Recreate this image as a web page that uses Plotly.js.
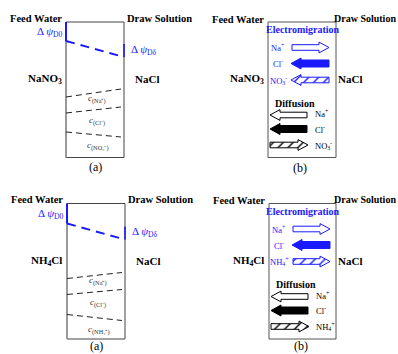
<!DOCTYPE html>
<html><head><meta charset="utf-8">
<script src="https://cdn.plot.ly/plotly-3.0.1.min.js"></script>
<style>html,body{margin:0;padding:0;background:#fff}#plot{width:398px;height:354px}</style>
</head><body><div id="plot"></div>
<script>
// ---- data ----
const feedSalts = ['NaNO<sub>3</sub>', 'NH<sub>4</sub>Cl'];
const drawSalts = ['NaCl', 'NaCl'];
const ionLabels = [
  ['Na<sup>+</sup>', 'Cl<sup>-</sup>', 'NO<sub>3</sub><sup>-</sup>'],
  ['Na<sup>+</sup>', 'Cl<sup>-</sup>', 'NH<sub>4</sub><sup>+</sup>']
];
const concLabels = [
  ['<i>c</i><sub>(Na⁺)</sub>', '<i>c</i><sub>(Cl⁻)</sub>', '<i>c</i><sub>(NO₃⁻)</sub>'],
  ['<i>c</i><sub>(Na⁺)</sub>', '<i>c</i><sub>(Cl⁻)</sub>', '<i>c</i><sub>(NH₄⁺)</sub>']
];
const ionFill = ['open', 'solid', 'hatch'];
// +1 = towards draw solution, -1 = towards feed water
const electromigrationDir = [[1, -1, -1], [1, -1, 1]];
const diffusionDir = [[-1, -1, 1], [-1, -1, 1]];
// Donnan potential drop (diagram units below membrane top)
const psiD0 = [19, 20];
const psiDdelta = [35, 36];
const psiDdeltaStart = [22, 23];
// concentration boundaries (diagram units below membrane top), feed side / draw side
const concFeed = [[75, 91, 110], [75, 91, 111]];
const concDraw = [[67, 85, 115], [69, 86, 117]];

// ---- layout helpers ----
const rowTop = [22, 203.5];
const boxA = [[66, 124], [67, 125]];
const boxB = [[268, 336], [269, 336]];
const boxH = 135.5;
const serif = 'Liberation Serif';
const BLUE = '#1a1aff';

const traces = [], shapes = [], ann = [];
function txt(x, y, t, o) {
  ann.push(Object.assign({x, y, text: t, showarrow: false, xanchor: 'center', yanchor: 'middle',
    font: {family: serif, size: 10.5, color: '#000'}}, o || {}));
}
function line(x0, y0, x1, y1, color, width, dash) {
  shapes.push({type: 'line', x0, y0, x1, y1, line: {color, width, dash: dash || 'solid'}});
}
function arrow(xTail, xTip, y, color, style) {
  const d = Math.sign(xTip - xTail);
  const sh = style === 'solid' ? 3.5 : 2.8, hh = style === 'solid' ? 5.5 : 5.4, hl = 10;
  const xb = xTip - d * hl;
  const xs = [xTail, xb, xb, xTip, xb, xb, xTail, xTail];
  const ys = [y - sh, y - sh, y - hh, y, y + hh, y + sh, y + sh, y - sh];
  const t = {x: xs, y: ys, mode: 'lines', fill: 'toself', line: {color, width: 1},
    hoverinfo: 'skip', showlegend: false};
  if (style === 'solid') t.fillcolor = color;
  else if (style === 'open') t.fillcolor = '#fff';
  else {
    t.fillcolor = '#fff';
    t.fillpattern = {shape: '/', fgcolor: color, bgcolor: '#fff', size: 7, solidity: 0.2};
  }
  traces.push(t);
}

for (let r = 0; r < 2; r++) {
  const top = rowTop[r], bot = top + boxH;
  // ---------- panel (a) ----------
  const [L, R] = boxA[r];
  shapes.push({type: 'rect', x0: L, x1: R, y0: top, y1: bot, line: {color: '#444', width: 1}});
  line(L, top, L, bot, '#999', 1.6);
  // Donnan potential
  line(L, top, L, top + psiD0[r], BLUE, 2);
  line(L, top + psiD0[r], R, top + psiDdelta[r], BLUE, 2, '9px,6px');
  line(R, top + psiDdeltaStart[r], R, top + psiDdelta[r], BLUE, 1.6);
  txt(L - 1, top + 10, 'Δ <i>ψ</i><sub>D0</sub>', {xanchor: 'right', font: {family: serif, size: 11, color: BLUE}});
  txt(R + 5, top + 28, 'Δ <i>ψ</i><sub>Dδ</sub>', {xanchor: 'left', font: {family: serif, size: 11, color: BLUE}});
  // concentration boundaries
  for (let i = 0; i < 3; i++) {
    line(L, top + concFeed[r][i], R - 3, top + concDraw[r][i], '#222', 1, '6px,4px');
  }
  const cy = [top + 77, top + 99, top + 124 + r * 2];
  for (let i = 0; i < 3; i++) {
    txt((L + R) / 2 + 2, cy[i], concLabels[r][i], {font: {family: serif, size: 9, color: '#333'}});
  }
  txt(L - 30, top - 4, '<b>Feed Water</b>');
  txt(R + 35, top - 4, '<b>Draw Solution</b>');
  txt(L - 21, top + 57, '<b>' + feedSalts[r] + '</b>', {font: {family: serif, size: 11, color: '#000'}});
  txt(R + 23, top + 57, '<b>' + drawSalts[r] + '</b>', {font: {family: serif, size: 11, color: '#000'}});
  txt((L + R) / 2, Math.min(bot + 9.5, 346), '(a)', {font: {family: serif, size: 12, color: '#000'}});

  // ---------- panel (b) ----------
  const [BL, BR] = boxB[r];
  shapes.push({type: 'rect', x0: BL, x1: BR, y0: top, y1: bot, line: {color: '#555', width: 1}});
  txt(BL - 30, top - 3, '<b>Feed Water</b>');
  txt(397.5, top - 4, '<b>Draw Solution</b>', {xanchor: 'right', font: {family: serif, size: 10, color: '#000'}});
  txt(BL - 21, top + 57, '<b>' + feedSalts[r] + '</b>', {font: {family: serif, size: 11, color: '#000'}});
  txt(BR + 14, top + 57, '<b>' + drawSalts[r] + '</b>', {font: {family: serif, size: 11, color: '#000'}});
  txt((BL + BR) / 2 + 0.5, top + 7.5, '<b>Electromigration</b>', {font: {family: serif, size: 10, color: BLUE}});
  const emY = [top + 25.5, top + 41.5, top + 58];
  for (let i = 0; i < 3; i++) {
    const a = BL + 23, b = BL + 61;
    const dir = electromigrationDir[r][i];
    arrow(dir > 0 ? a + 1 : b, dir > 0 ? b : a, emY[i], BLUE, ionFill[i]);
    txt(BL + 10, emY[i], ionLabels[r][i], {font: {family: serif, size: 8.5, color: BLUE}});
  }
  txt(BL + 5, top + 81, '<b>Diffusion</b>', {xanchor: 'left', font: {family: serif, size: 10, color: '#000'}});
  const dfY = [top + 93, top + 107, top + 123];
  for (let i = 0; i < 3; i++) {
    const a = BL + 2, b = BL + 40;
    const dir = diffusionDir[r][i];
    arrow(dir > 0 ? a : b - 1, dir > 0 ? b : a, dfY[i], '#000', ionFill[i]);
    txt(BL + 45, dfY[i] - (i === 0 ? 1.5 : 0), ionLabels[r][i], {xanchor: 'left', font: {family: serif, size: 8.5, color: '#000'}});
  }
  txt((BL + BR) / 2 - 2, Math.min(bot + 10, 346), '(b)', {font: {family: serif, size: 12, color: '#000'}});
}

const layout = {
  width: 398, height: 354, margin: {l: 0, r: 0, t: 0, b: 0},
  paper_bgcolor: '#fff', plot_bgcolor: '#fff',
  font: {family: serif},
  xaxis: {range: [0, 398], visible: false, fixedrange: true},
  yaxis: {range: [354, 0], visible: false, fixedrange: true},
  shapes, annotations: ann, showlegend: false
};
Plotly.newPlot('plot', traces, layout, {staticPlot: true, displayModeBar: false});
</script></body></html>
